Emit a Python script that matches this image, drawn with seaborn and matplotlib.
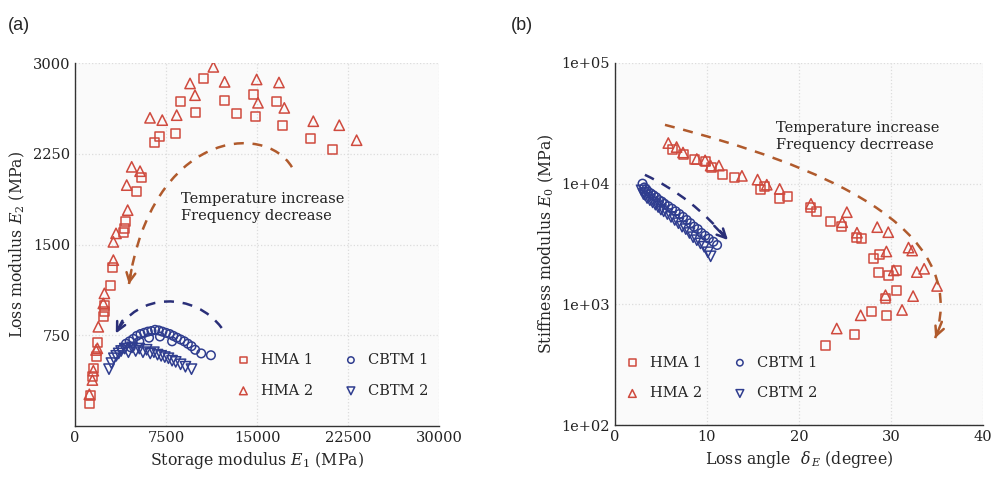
import numpy as np
import pandas as pd
import seaborn as sns
import matplotlib
matplotlib.use("Agg")
import matplotlib.pyplot as plt
from matplotlib.path import Path
from matplotlib.patches import PathPatch
from matplotlib.ticker import FixedLocator, FuncFormatter

# ---- data ----
# (a) storage modulus E1 vs loss modulus E2 (MPa)
hma1_e1 = [1180, 1290, 1430, 1510, 1790, 1870, 2330, 2420, 2470, 2940, 3080, 4010, 4070, 4120,
           5030, 5520, 6590, 6950, 8300, 8710, 9890, 10630, 12300, 13270, 14750, 14890, 16620,
           17110, 19420, 21200]
hma1_e2 = [187, 256, 407, 476, 572, 688, 903, 944, 999, 1165, 1308, 1597, 1633, 1688,
           1936, 2051, 2340, 2390, 2418, 2685, 2591, 2872, 2693, 2583, 2740, 2555, 2685,
           2486, 2376, 2288]
hma2_e1 = [1180, 1430, 1510, 1730, 1840, 1920, 2330, 2420, 3160, 3160, 3380, 4340, 4260, 4670,
           5360, 6180, 7190, 8380, 9480, 9890, 11400, 12330, 14970, 15080, 16810, 17250, 19640,
           21780, 23210]
hma2_e2 = [262, 380, 457, 628, 642, 820, 1013, 1096, 1371, 1522, 1592, 1784, 1991, 2142,
           2106, 2547, 2528, 2569, 2831, 2734, 2968, 2844, 2864, 2671, 2839, 2629, 2519,
           2486, 2362]
cbtm1_e1 = [3900, 4200, 4500, 4800, 5100, 5400, 5700, 6000, 6300, 6600, 6900, 7200, 7500, 7800,
            8100, 8400, 8700, 9000, 9300, 9600, 9900, 10400, 11200, 4600, 5300, 6100, 7000, 8000]
cbtm1_e2 = [640, 680, 700, 720, 745, 760, 770, 780, 785, 795, 790, 780, 770, 760,
            745, 730, 715, 700, 680, 660, 630, 600, 585, 650, 700, 730, 740, 700]
cbtm2_e1 = [2800, 3000, 3200, 3400, 3600, 3800, 4100, 4400, 4700, 5000, 5300, 5600, 5900, 6200,
            6500, 6800, 7100, 7400, 7700, 8000, 8300, 8700, 9100, 9600]
cbtm2_e2 = [470, 520, 560, 580, 600, 620, 640, 610, 650, 620, 640, 610, 630, 600,
            610, 590, 580, 570, 560, 540, 530, 510, 490, 470]

# (b) loss angle (degree) vs stiffness modulus E0 (MPa)
hma1_d = [6.3, 7.4, 8.7, 9.8, 10.5, 11.7, 13.0, 15.8, 16.3, 17.9, 18.7, 21.2, 21.9, 23.4,
          24.6, 26.3, 26.8, 28.1, 28.8, 28.6, 29.7, 30.6, 29.4, 30.6, 27.9, 29.5, 26.0, 22.9]
hma1_e0 = [19100, 17400, 15800, 15300, 13500, 12000, 11300, 8900, 9500, 7500, 7850, 6290, 5900, 4880,
           4440, 3560, 3490, 2400, 2590, 1830, 1740, 1910, 1120, 1310, 880, 811, 557, 458]
hma2_d = [5.8, 6.7, 7.4, 8.9, 9.8, 10.4, 11.3, 13.8, 15.5, 16.5, 17.9, 21.3, 24.7, 25.2,
          26.3, 28.5, 29.7, 29.5, 31.9, 32.3, 30.3, 32.8, 33.6, 35.0, 29.4, 32.4, 31.2, 26.7, 24.1]
hma2_e0 = [21700, 20100, 18100, 16000, 15600, 14100, 14100, 11600, 10800, 9800, 9040, 6800, 4790, 5800,
           3920, 4360, 3960, 2740, 2950, 2790, 1910, 1850, 1970, 1420, 1190, 1170, 898, 811, 630]
cbtm1_d = [3.0, 3.2, 3.4, 3.6, 3.9, 4.2, 4.5, 4.8, 5.1, 5.4, 5.8, 6.2, 6.6, 7.0,
           7.4, 7.8, 8.2, 8.6, 9.0, 9.4, 9.8, 10.2, 10.7, 11.1]
cbtm1_e0 = [10000, 9300, 9000, 8600, 8300, 8000, 7700, 7300, 7100, 6800, 6500, 6200, 5900, 5600,
            5300, 5000, 4700, 4400, 4200, 3900, 3700, 3500, 3300, 3100]
cbtm2_d = [2.9, 3.1, 3.3, 3.5, 3.8, 4.1, 4.4, 4.7, 5.0, 5.3, 5.7, 6.1, 6.5, 6.9,
           7.3, 7.7, 8.1, 8.5, 8.9, 9.3, 9.7, 10.1, 10.4]
cbtm2_e0 = [8800, 8200, 8000, 7600, 7300, 7000, 6700, 6400, 6100, 5900, 5600, 5300, 5000, 4700,
            4400, 4200, 3900, 3600, 3400, 3200, 3000, 2700, 2500]

labels = ["HMA 1", "HMA 2", "CBTM 1", "CBTM 2"]
markers = ["s", "^", "o", "v"]
sizes = [42, 55, 38, 55]
red = "#cf4a3e"
blue = "#2f3d8f"
colors = [red, red, blue, blue]
brown = "#b05a2c"
navy = "#2a2f78"

sns.set_style("white")
plt.rcParams["font.family"] = ["DejaVu Serif"]
plt.rcParams["mathtext.fontset"] = "dejavuserif"

fig = plt.figure(figsize=(9.95, 4.84), dpi=100)
ax1 = fig.add_axes([0.0754, 0.1198, 0.3658, 0.75])
ax2 = fig.add_axes([0.618, 0.1219, 0.370, 0.748])


def draw(ax, xs, ys):
    for x, y, lab, m, s, c in zip(xs, ys, labels, markers, sizes, colors):
        df = pd.DataFrame({"x": x, "y": y})
        sns.scatterplot(data=df, x="x", y="y", ax=ax, marker=m, s=s,
                        facecolors="none", edgecolors=c, linewidth=1.1, label=lab)


draw(ax1, [hma1_e1, hma2_e1, cbtm1_e1, cbtm2_e1], [hma1_e2, hma2_e2, cbtm1_e2, cbtm2_e2])
draw(ax2, [hma1_d, hma2_d, cbtm1_d, cbtm2_d], [hma1_e0, hma2_e0, cbtm1_e0, cbtm2_e0])

# axes styling
for ax in (ax1, ax2):
    ax.set_facecolor("#fafafa")
    for side in ("top", "right"):
        ax.spines[side].set_visible(False)
    for side in ("left", "bottom"):
        ax.spines[side].set_color("#333333")
        ax.spines[side].set_linewidth(1.0)
    ax.tick_params(direction="in", length=5, width=1, labelsize=10.5, colors="#222222")
    ax.grid(True, linestyle=":", color="#dcdcdc", linewidth=0.9)

ax1.set_xlim(0, 30000)
ax1.set_ylim(0, 3000)
ax1.xaxis.set_major_locator(FixedLocator([0, 7500, 15000, 22500, 30000]))
ax1.yaxis.set_major_locator(FixedLocator([750, 1500, 2250, 3000]))
ax1.set_xlabel("Storage modulus $E_1$ (MPa)", fontsize=11.3)
ax1.set_ylabel("Loss modulus $E_2$ (MPa)", fontsize=11.3)

ax2.set_yscale("log")
ax2.set_xlim(0, 40)
ax2.set_ylim(1e2, 1e5)
ax2.xaxis.set_major_locator(FixedLocator([0, 10, 20, 30, 40]))
ax2.yaxis.set_major_locator(FixedLocator([1e2, 1e3, 1e4, 1e5]))
ax2.yaxis.set_minor_locator(FixedLocator([]))
ax2.yaxis.set_major_formatter(FuncFormatter(lambda v, p: f"{v:.0e}"))
ax2.set_xlabel(r"Loss angle  $\delta_{\,E}$ (degree)", fontsize=11.3)
ax2.set_ylabel("Stiffness modulus $E_0$ (MPa)", fontsize=11.3)

# legends
leg_kw = dict(ncol=2, frameon=False, fontsize=10.5, handletextpad=0.2, columnspacing=1.6,
              labelspacing=1.15, markerscale=0.75, borderaxespad=0.3)
ax1.legend(loc="lower right", bbox_to_anchor=(1.0, 0.05), **leg_kw)
ax2.legend(loc="lower left", bbox_to_anchor=(-0.02, 0.04), **leg_kw)


# dashed trend arrows (axes fraction)
def curve(ax, pts, color, head_from):
    codes = [Path.MOVETO] + [Path.CURVE4] * 3 if len(pts) == 4 else [Path.MOVETO] + [Path.CURVE3] * 2
    patch = PathPatch(Path(pts, codes), fill=False, edgecolor=color, linestyle=(0, (4, 3.5)),
                      linewidth=1.8, transform=ax.transAxes)
    ax.add_patch(patch)
    ax.annotate("", xy=pts[-1], xytext=head_from, xycoords="axes fraction",
                textcoords="axes fraction",
                arrowprops=dict(arrowstyle="->", color=color, lw=1.8, mutation_scale=16,
                                shrinkA=0, shrinkB=0))


curve(ax1, [(0.596, 0.713), (0.52, 0.84), (0.21, 0.81), (0.148, 0.39)], brown, (0.155, 0.43))
curve(ax1, [(0.403, 0.270), (0.33, 0.37), (0.17, 0.37), (0.112, 0.255)], navy, (0.13, 0.29))
curve(ax2, [(0.136, 0.829), (0.55, 0.72), (0.97, 0.55), (0.87, 0.24)], brown, (0.888, 0.285))
curve(ax2, [(0.0815, 0.691), (0.21, 0.63), (0.307, 0.511)], navy, (0.27, 0.55))

ax1.text(0.291, 0.645, "Temperature increase\nFrequency decrease", transform=ax1.transAxes,
         fontsize=10.5, va="top", ha="left", linespacing=1.3, color="#222222")
ax2.text(0.4375, 0.84, "Temperature increase\nFrequency decrrease", transform=ax2.transAxes,
         fontsize=10.5, va="top", ha="left", linespacing=1.3, color="#222222")

fig.text(0.008, 0.965, "(a)", fontsize=13, family="Liberation Sans", va="top")
fig.text(0.513, 0.965, "(b)", fontsize=13, family="Liberation Sans", va="top")

fig.savefig("out.png", dpi=100)
